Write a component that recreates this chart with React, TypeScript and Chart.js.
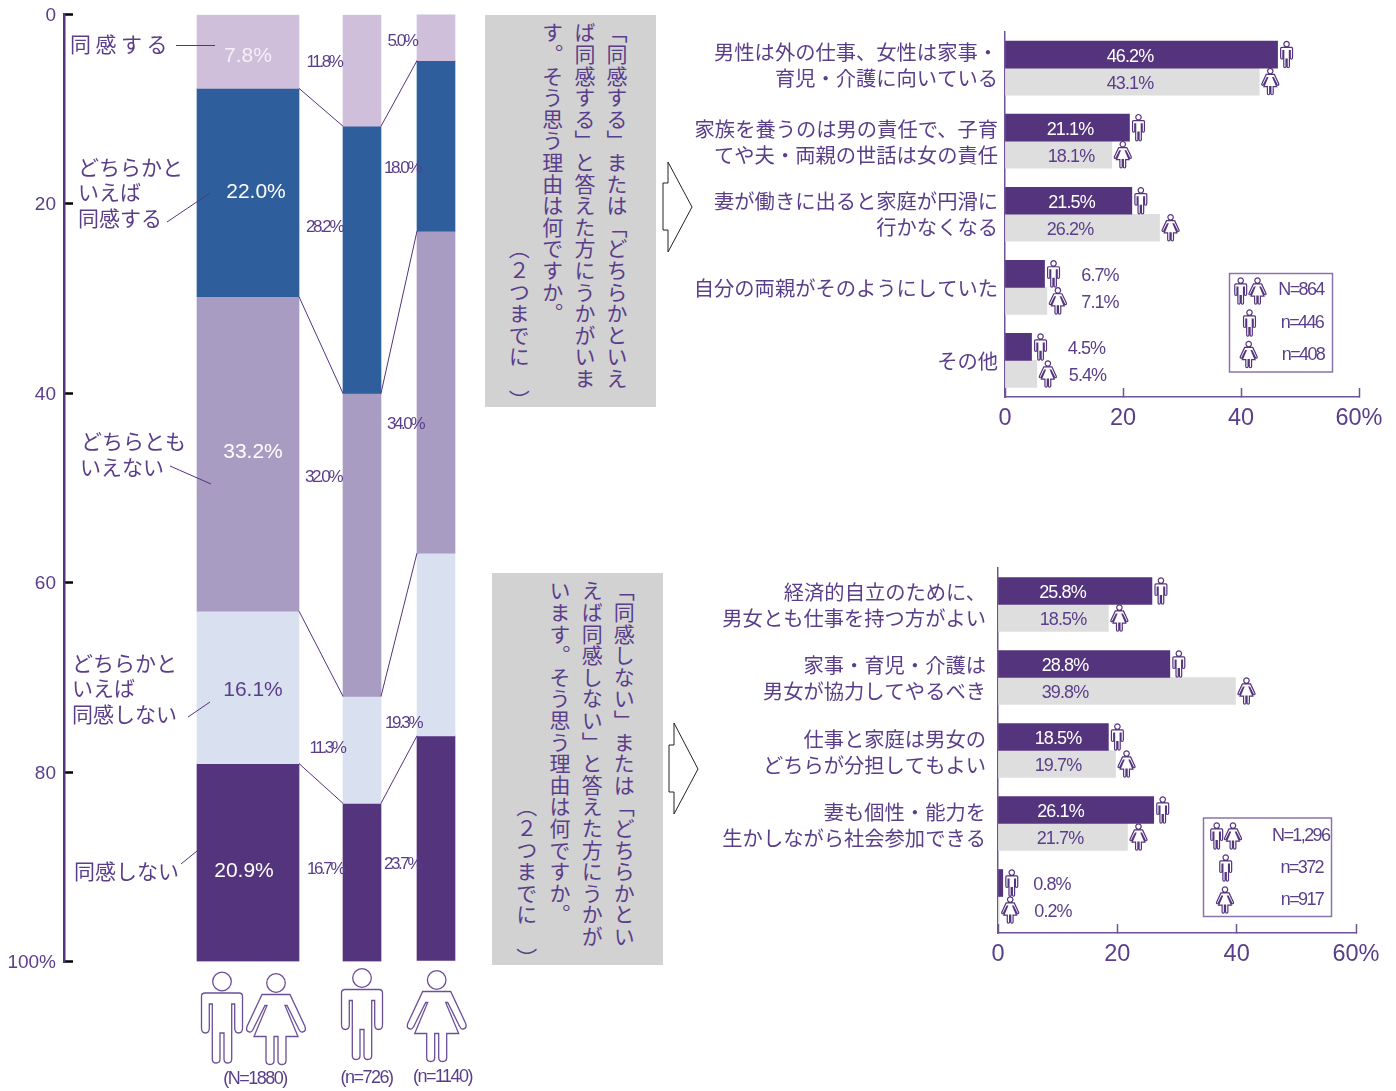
import React, { useEffect, useRef } from "react";
import { Chart, registerables, CategoryScale } from "chart.js";

const W = 1396;
const H = 1091;
const FONT = '"Liberation Sans","Noto Sans CJK JP",sans-serif';
const JP = '"Noto Sans CJK JP",sans-serif';
const INK = "#54347D";
const TEXT = "#5A3E8A";

// ---------- stacked chart data ----------
const groups = ["全体", "男性", "女性"];
const responses = ["同感する", "どちらかといえば同感する", "どちらともいえない", "どちらかといえば同感しない", "同感しない"];
const agree = [7.8, 11.8, 5.0];
const ratherAgree = [22.0, 28.2, 18.0];
const neutral = [33.2, 32.0, 34.0];
const ratherDisagree = [16.1, 11.3, 19.3];
const disagree = [20.9, 16.7, 23.7];
const stackSeries = [agree, ratherAgree, neutral, ratherDisagree, disagree];
const stackColors = ["#CFBFDB", "#2E5F9C", "#A99CC3", "#D9E0EF", "#54347D"];
const groupCentres = [184, 298, 372];
const groupSizes = ["(N=1880)", "(n=726)", "(n=1140)"];
const womenBarNudge = 1.2;

// ---------- "agree" reasons ----------
const agreeCategories = [
  ["男性は外の仕事、女性は家事・", "育児・介護に向いている"],
  ["家族を養うのは男の責任で、子育", "てや夫・両親の世話は女の責任"],
  ["妻が働きに出ると家庭が円滑に", "行かなくなる"],
  "自分の両親がそのようにしていた",
  "その他",
];
const agreeMen = [46.2, 21.1, 21.5, 6.7, 4.5];
const agreeWomen = [43.1, 18.1, 26.2, 7.1, 5.4];

// ---------- "disagree" reasons ----------
const disagreeCategories = [
  ["経済的自立のために、", "男女とも仕事を持つ方がよい"],
  ["家事・育児・介護は", "男女が協力してやるべき"],
  ["仕事と家庭は男女の", "どちらが分担してもよい"],
  ["妻も個性・能力を", "生かしながら社会参加できる"],
  "",
];
const disagreeMen = [25.8, 28.8, 18.5, 26.1, 0.8];
const disagreeWomen = [18.5, 39.8, 19.7, 21.7, 0.2];

const agreeQuestion = ["「同感する」または「どちらかといえ", "ば同感する」と答えた方にうかがいま", "す。そう思う理由は何ですか。"];
const disagreeQuestion = ["「同感しない」または「どちらかとい", "えば同感しない」と答えた方にうかが", "います。そう思う理由は何ですか。"];
const questionNote = "（２つまでに　）";

class UnevenCategoryScale extends CategoryScale {
  static id = "unevenCategory";
  static defaults = CategoryScale.defaults;
  getPixelForValue(value: any) {
    const i = typeof value === "number" ? value : (this as any).parse(value);
    return (this as any).left + groupCentres[i];
  }
}
Chart.register(...registerables, UnevenCategoryScale as any);

const MALE = new Path2D(
  "M-17,21 L17,21 Q20.5,21 20.5,24.5 L20.5,56 Q20.5,61 16.6,61 Q12.7,61 12.7,56 L12.7,32 L9.7,32 L9.7,87 Q9.7,91 5.8,91 Q2,91 2,87 L2,61 L-2,61 L-2,87 Q-2,91 -5.8,91 Q-9.7,91 -9.7,87 L-9.7,32 L-12.7,32 L-12.7,56 Q-12.7,61 -16.6,61 Q-20.5,61 -20.5,56 L-20.5,24.5 Q-20.5,21 -17,21 Z M9.3,9.5 A9.3,9.3 0 1 1 -9.3,9.5 A9.3,9.3 0 1 1 9.3,9.5 Z"
);
const FEMALE = new Path2D(
  "M-14,21 L14,21 L29,53 Q30.5,58 26.5,58.5 Q24.5,59 23,56 L11,32 L9,32 L22,63 L10,63 L10,87 Q10,91 6,91 Q2,91 2,87 L2,63 L-2,63 L-2,87 Q-2,91 -6,91 Q-10,91 -10,87 L-10,63 L-22,63 L-9,32 L-11,32 L-23,56 Q-24.5,59 -26.5,58.5 Q-30.5,58 -29,53 Z M9.3,9.5 A9.3,9.3 0 1 1 -9.3,9.5 A9.3,9.3 0 1 1 9.3,9.5 Z"
);

function person(ctx: any, kind: "m" | "f", cx: number, cy: number, scale: number, lw: number, color = INK) {
  ctx.save();
  ctx.translate(cx, cy);
  ctx.scale(scale, scale);
  ctx.translate(0, -45.5);
  ctx.lineWidth = lw / scale;
  ctx.strokeStyle = color;
  ctx.stroke(kind === "m" ? MALE : FEMALE);
  ctx.restore();
}

function label(ctx: any, text: string, x: number, y: number, size: number, opts: any = {}) {
  ctx.save();
  ctx.font = `${size}px ${opts.family || FONT}`;
  ctx.fillStyle = opts.color || TEXT;
  ctx.textAlign = opts.align || "center";
  ctx.textBaseline = "middle";
  ctx.letterSpacing = `${opts.spacing || 0}px`;
  ctx.fillText(text, x, y);
  ctx.restore();
}

function segment(ctx: any, x1: number, y1: number, x2: number, y2: number, color = INK, lw = 1) {
  ctx.save();
  ctx.strokeStyle = color;
  ctx.lineWidth = lw;
  ctx.beginPath();
  ctx.moveTo(x1, y1);
  ctx.lineTo(x2, y2);
  ctx.stroke();
  ctx.restore();
}

function arrow(ctx: any, pts: number[][]) {
  ctx.save();
  ctx.strokeStyle = "#222";
  ctx.lineWidth = 1;
  ctx.fillStyle = "#fff";
  ctx.beginPath();
  pts.forEach((p, i) => (i ? ctx.lineTo(p[0], p[1]) : ctx.moveTo(p[0], p[1])));
  ctx.closePath();
  ctx.fill();
  ctx.stroke();
  ctx.restore();
}

const stackAnnotations = [
  { t: "同感する", x: 70, y: 44, s: 4.5 },
  { t: "どちらかと", x: 78, y: 167 },
  { t: "いえば", x: 78, y: 192 },
  { t: "同感する", x: 78, y: 218 },
  { t: "どちらとも", x: 81, y: 441 },
  { t: "いえない", x: 80, y: 467 },
  { t: "どちらかと", x: 72, y: 663 },
  { t: "いえば", x: 72, y: 688 },
  { t: "同感しない", x: 72, y: 714 },
  { t: "同感しない", x: 74, y: 871 },
];
const leaders = [
  [176, 45.5, 215, 45.5],
  [167, 222, 210, 193],
  [170, 466, 211, 484],
  [188, 717, 210, 702],
  [181, 864, 197, 851],
];
const mainLabelPos = [
  [248, 56, "#F4F0F8"],
  [256, 192, "#FFFFFF"],
  [253, 452, "#FFFFFF"],
  [253, 690, TEXT],
  [244, 871, "#FFFFFF"],
];
const menLabelPos = [
  [324, 62],
  [324, 227],
  [323, 477],
  [327, 748],
  [325, 869],
];
const womenLabelPos = [
  [402, 41],
  [402, 168],
  [405, 424],
  [403, 723],
  [402, 864],
];

const stackPlugin = {
  id: "stackDecor",
  afterDatasetsUpdate(chart: any) {
    for (let i = 5; i < 10; i++) {
      const el = chart.getDatasetMeta(i).data[2];
      el.y -= womenBarNudge;
      el.base -= womenBarNudge;
    }
  },
  beforeDraw(chart: any) {
    chart.scales.y.getLabelItems().forEach((it: any) => {
      it.options.translation[1] += 1.2;
    });
  },
  afterDatasetsDraw(chart: any) {
    const { ctx } = chart;
    const yS = chart.scales.y;
    let sum = [0, 0, 0];
    for (let i = 0; i < 4; i++) {
      sum = sum.map((v, g) => v + stackSeries[i][g]);
      const a = chart.getDatasetMeta(i).data[0];
      const b = chart.getDatasetMeta(i + 5).data[1];
      const c = chart.getDatasetMeta(i + 5).data[2];
      const y0 = yS.getPixelForValue(sum[0]);
      const y1 = yS.getPixelForValue(sum[1]);
      const y2 = yS.getPixelForValue(sum[2]) - womenBarNudge;
      segment(ctx, a.x + a.width / 2, y0, b.x - b.width / 2, y1);
      segment(ctx, b.x + b.width / 2, y1, c.x - c.width / 2, y2);
    }
    stackAnnotations.forEach((a) => label(ctx, a.t, a.x, a.y, 21, { align: "left", family: JP, spacing: a.s || 0 }));
    leaders.forEach((l) => segment(ctx, l[0], l[1], l[2], l[3]));
    stackSeries.forEach((s, i) => {
      const m: any = mainLabelPos[i];
      label(ctx, `${s[0].toFixed(1)}%`, m[0], m[1], 21, { color: m[2] });
      label(ctx, `${s[1].toFixed(1)}%`, menLabelPos[i][0], menLabelPos[i][1], 17, { spacing: -2.4 });
      label(ctx, `${s[2].toFixed(1)}%`, womenLabelPos[i][0], womenLabelPos[i][1], 17, { spacing: -2.4 });
    });
    person(ctx, "m", 222, 1017.5, 1, 1.3, "#6B4F98");
    person(ctx, "f", 276, 1019, 1, 1.3, "#6B4F98");
    person(ctx, "m", 362, 1014, 1, 1.3, "#6B4F98");
    person(ctx, "f", 436.7, 1016, 1, 1.3, "#6B4F98");
    label(ctx, groupSizes[0], 255, 1079, 18, { spacing: -1.5 });
    label(ctx, groupSizes[1], 366.5, 1078, 18, { spacing: -1.5 });
    label(ctx, groupSizes[2], 442.5, 1077, 18, { spacing: -1.5 });
    arrow(ctx, [[668, 162], [692, 207], [668, 252], [668, 230], [663, 230], [663, 183], [668, 183]]);
    arrow(ctx, [[674, 723], [698, 769], [674, 814], [674, 792], [669, 792], [669, 745], [674, 745]]);
  },
};

function barPlugin(cfg: any) {
  return {
    id: "barDecor",
    beforeDraw(chart: any) {
      const items = chart.scales.y.getLabelItems();
      items.forEach((it: any, i: number) => {
        it.options.translation[1] += cfg.labelShift[i];
      });
    },
    afterDatasetsDraw(chart: any) {
      const { ctx } = chart;
      [0, 1].forEach((ds) => {
        const vals = ds === 0 ? cfg.men : cfg.women;
        chart.getDatasetMeta(ds).data.forEach((bar: any, i: number) => {
          const off = ds === 0 ? 9 : 11;
          person(ctx, ds === 0 ? "m" : "f", bar.x + off, bar.y, 0.29, 1.2);
          const inside = i < cfg.insideRows;
          const color = ds === 0 && inside ? "#FFFFFF" : TEXT;
          label(ctx, `${vals[i].toFixed(1)}%`, cfg.labelX[ds][i], bar.y + 2.5, 18, { color, spacing: -0.9 });
        });
      });
      const b = cfg.box;
      ctx.save();
      ctx.strokeStyle = "#8A74AE";
      ctx.lineWidth = 1.5;
      ctx.strokeRect(b.x, b.y, b.w, b.h);
      ctx.restore();
      cfg.legendIcons.forEach((p: any) => person(ctx, p[0], p[1], p[2], 0.29, 1.2));
      cfg.legendText.forEach((t: any) => label(ctx, t[0], t[1], t[2], 18, { spacing: -1.6 }));
    },
  };
}

function stackChart(canvas: HTMLCanvasElement) {
  const whole = stackSeries.map((s, i) => ({
    label: responses[i],
    data: [s[0], null, null],
    backgroundColor: stackColors[i],
    barThickness: 102,
    borderWidth: 0,
  }));
  const bySex = stackSeries.map((s, i) => ({
    label: responses[i],
    data: [null, s[1], s[2]],
    backgroundColor: stackColors[i],
    barThickness: 38,
    borderWidth: 0,
  }));
  return new Chart(canvas, {
    type: "bar",
    data: { labels: groups, datasets: [...whole, ...bySex] },
    plugins: [stackPlugin],
    options: {
      animation: false,
      responsive: false,
      devicePixelRatio: 1,
      layout: { padding: { left: 0, top: 14.5, right: W - 460, bottom: H - 961.5 } },
      plugins: { legend: { display: false }, tooltip: { enabled: false } },
      scales: {
        x: { type: "unevenCategory", stacked: true, display: false },
        y: {
          stacked: true,
          reverse: true,
          min: 0,
          max: 100,
          afterFit(s: any) {
            s.width = 64;
            s.paddingTop = 0;
            s.paddingBottom = 0;
          },
          border: { color: "#54347D", width: 2.5 },
          grid: { drawOnChartArea: false, tickLength: -9, tickColor: "#000", tickWidth: 2.5 },
          ticks: {
            stepSize: 20,
            padding: 17,
            color: TEXT,
            font: { family: FONT, size: 19 },
            callback: (v: any) => (v === 100 ? "100%" : v),
          },
        },
      },
    } as any,
  });
}

function reasonChart(canvas: HTMLCanvasElement, cfg: any) {
  return new Chart(canvas, {
    type: "bar",
    data: {
      labels: cfg.categories,
      datasets: [
        { label: "男性", data: cfg.men, backgroundColor: "#54347D", barThickness: 27, borderWidth: 0 },
        { label: "女性", data: cfg.women, backgroundColor: "#DEDEDE", barThickness: 27, borderWidth: 0 },
      ],
    },
    plugins: [barPlugin(cfg)],
    options: {
      indexAxis: "y",
      animation: false,
      responsive: false,
      devicePixelRatio: 1,
      layout: { padding: { left: 0, top: cfg.top, right: W - cfg.right, bottom: 0 } },
      plugins: { legend: { display: false }, tooltip: { enabled: false } },
      scales: {
        x: {
          min: 0,
          max: 60,
          afterFit(s: any) {
            s.height = H - cfg.bottom;
            s.paddingLeft = 0;
            s.paddingRight = 0;
          },
          border: { color: "#6F5397", width: 1.5 },
          grid: { drawOnChartArea: false, tickLength: -9, tickColor: "#6F5397", tickWidth: 1.5 },
          ticks: {
            stepSize: 20,
            padding: 16,
            maxRotation: 0,
            color: TEXT,
            font: { family: FONT, size: 23.5 },
            callback: (v: any) => (v === 60 ? "60%" : v),
          },
        },
        y: {
          afterFit(s: any) {
            s.width = cfg.left;
          },
          border: { color: "#6F5397", width: 1.5 },
          grid: { display: false, drawTicks: false },
          ticks: {
            padding: cfg.tickPad,
            autoSkip: false,
            color: TEXT,
            font: { family: JP, size: 20.3, lineHeight: 1.3 },
          },
        },
      },
    } as any,
  });
}

const agreeConfig = {
  categories: agreeCategories,
  men: agreeMen,
  women: agreeWomen,
  left: 1005,
  right: 1359,
  top: 31.5,
  bottom: 397,
  tickPad: 7,
  labelShift: [-3, 1, 0, 1, 1],
  insideRows: 3,
  labelX: [
    [1130, 1070, 1071.5, 1100, 1086.5],
    [1130, 1071, 1070, 1100, 1087.5],
  ],
  box: { x: 1229.5, y: 273.5, w: 103, h: 98.5 },
  legendIcons: [
    ["m", 1240.7, 291],
    ["f", 1257.5, 291],
    ["m", 1249.5, 323],
    ["f", 1248.7, 354.5],
  ],
  legendText: [
    ["N=864", 1301, 290],
    ["n=446", 1302, 323],
    ["n=408", 1303, 355],
  ],
};

const disagreeConfig = {
  categories: disagreeCategories,
  men: disagreeMen,
  women: disagreeWomen,
  left: 998,
  right: 1356,
  top: 568,
  bottom: 933,
  tickPad: 12,
  labelShift: [1, 1, 2, 2, 0],
  insideRows: 4,
  labelX: [
    [1062.5, 1065, 1058, 1060.5, 1052],
    [1063, 1065, 1058, 1060, 1053],
  ],
  box: { x: 1203.5, y: 818, w: 128, h: 98.5 },
  legendIcons: [
    ["m", 1216.7, 836],
    ["f", 1233, 836],
    ["m", 1225.7, 868],
    ["f", 1225, 900],
  ],
  legendText: [
    ["N=1,296", 1300.7, 836],
    ["n=372", 1301.7, 868],
    ["n=917", 1302, 900],
  ],
};

const columnStyle = (left: number, top: number): any => ({
  position: "absolute",
  left: left - 16,
  top,
  width: 32,
  writingMode: "vertical-rl",
  textSpacingTrim: "space-all",
  fontFamily: JP,
  fontSize: 21,
  letterSpacing: "0.6px",
  lineHeight: "32px",
  color: TEXT,
  whiteSpace: "nowrap",
});

function Question(props: any) {
  const { x, y, w, h, lines, cols, top, noteTop } = props;
  return (
    <>
      <div style={{ position: "absolute", left: x, top: y, width: w, height: h, background: "#D2D2D2" }} />
      {lines.map((t: string, i: number) => (
        <div key={i} lang="ja" style={columnStyle(cols[i], top)}>
          {t}
        </div>
      ))}
      <div lang="ja" style={columnStyle(cols[3], noteTop)}>
        {questionNote}
      </div>
    </>
  );
}

export default function App() {
  const a = useRef<HTMLCanvasElement>(null);
  const b = useRef<HTMLCanvasElement>(null);
  const c = useRef<HTMLCanvasElement>(null);
  useEffect(() => {
    const charts = [
      stackChart(a.current!),
      reasonChart(b.current!, agreeConfig),
      reasonChart(c.current!, disagreeConfig),
    ];
    return () => charts.forEach((x) => x.destroy());
  }, []);
  const cs: React.CSSProperties = { position: "absolute", left: 0, top: 0, display: "block" };
  return (
    <div style={{ position: "absolute", left: 0, top: 0, width: W, height: H, overflow: "hidden", background: "#fff" }}>
      <Question x={485} y={15} w={171} h={392} lines={agreeQuestion} cols={[617, 585, 552.7, 519.3]} top={22} noteTop={238} />
      <Question x={492} y={573} w={171} h={392} lines={disagreeQuestion} cols={[624.3, 592.3, 560, 526.7]} top={580} noteTop={796} />
      <canvas ref={a} width={W} height={H} style={cs} />
      <canvas ref={b} width={W} height={H} style={cs} />
      <canvas ref={c} width={W} height={H} style={cs} />
    </div>
  );
}
